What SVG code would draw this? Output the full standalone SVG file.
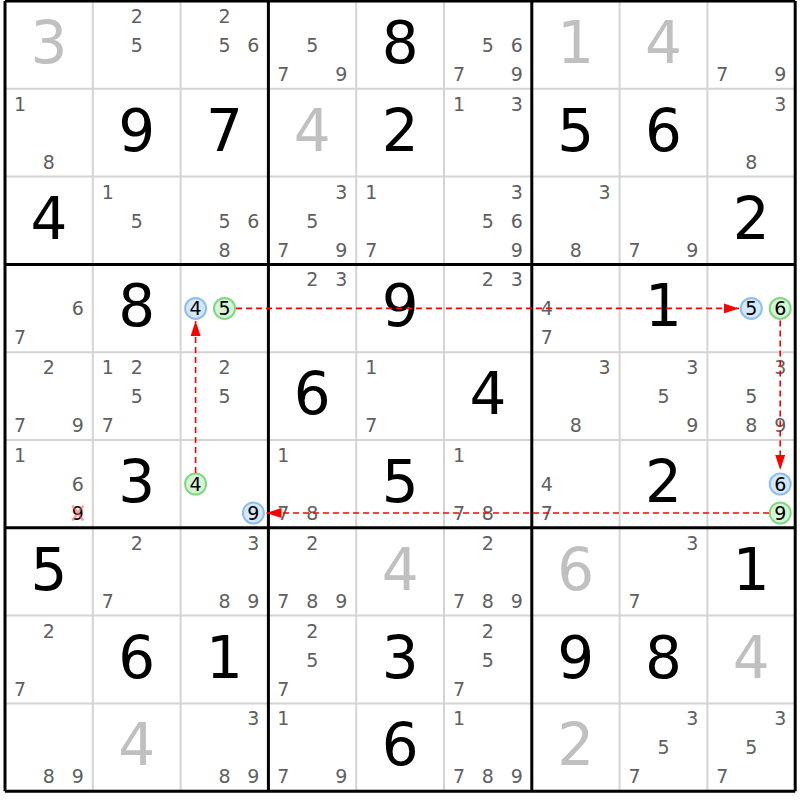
<svg xmlns="http://www.w3.org/2000/svg" width="800" height="800" viewBox="0 0 800 800">
<style>
text{font-family:"DejaVu Sans","Liberation Sans",sans-serif;text-anchor:middle}
.c{font-size:19px;fill:#606060}
.k{font-size:19px;fill:#000}
.b{font-size:58px;fill:#000}
.g{font-size:58px;fill:#c0c0c0}
.thin{stroke:#d4d4d4;stroke-width:2;fill:none}
.thick{stroke:#000;stroke-width:3;fill:none}
.blue{fill:#d5e7fb;stroke:#8ebef0;stroke-width:2}
.green{fill:#d6f4d6;stroke:#80d880;stroke-width:2}
.arr{stroke:#ff0000;stroke-width:1.6;stroke-dasharray:6 4;fill:none;marker-end:url(#ah)}
.x{stroke:#ff5050;stroke-opacity:0.55;stroke-width:2.5}
</style>
<defs>
<marker id="ah" viewBox="0 0 15 10" refX="15" refY="5" markerWidth="15" markerHeight="10" markerUnits="userSpaceOnUse" orient="auto"><path d="M0,0L15,5L0,10z" fill="#ff0000"/></marker>
</defs>
<rect width="800" height="800" fill="#fff"/>
<g id="grid">
<path class="thin" d="M92.8,1V791.2M180.6,1V791.2M356.2,1V791.2M444,1V791.2M619.6,1V791.2M707.4,1V791.2M5,88.8H795.2M5,176.6H795.2M5,352.2H795.2M5,440H795.2M5,615.6H795.2M5,703.4H795.2"/>
<path class="thick" d="M5,1V791.2M268.4,1V791.2M531.8,1V791.2M795.2,1V791.2M5,1H795.2M5,264.4H795.2M5,527.8H795.2M5,791.2H795.2"/>
</g>
<!-- Row 0 -->
<g id="r0c0" transform="translate(5,1)"><text class="g" x="43.9" y="62">3</text></g>
<g id="r0c1" transform="translate(92.8,1)"><text class="c" x="43.9" y="22">2</text><text class="c" x="43.9" y="51">5</text></g>
<g id="r0c2" transform="translate(180.6,1)"><text class="c" x="43.9" y="22">2</text><text class="c" x="43.9" y="51">5</text><text class="c" x="72.8" y="51">6</text></g>
<g id="r0c3" transform="translate(268.4,1)"><text class="c" x="43.9" y="51">5</text><text class="c" x="15" y="80">7</text><text class="c" x="72.8" y="80">9</text></g>
<g id="r0c4" transform="translate(356.2,1)"><text class="b" x="43.9" y="62">8</text></g>
<g id="r0c5" transform="translate(444,1)"><text class="c" x="43.9" y="51">5</text><text class="c" x="72.8" y="51">6</text><text class="c" x="15" y="80">7</text><text class="c" x="72.8" y="80">9</text></g>
<g id="r0c6" transform="translate(531.8,1)"><text class="g" x="43.9" y="62">1</text></g>
<g id="r0c7" transform="translate(619.6,1)"><text class="g" x="43.9" y="62">4</text></g>
<g id="r0c8" transform="translate(707.4,1)"><text class="c" x="15" y="80">7</text><text class="c" x="72.8" y="80">9</text></g>
<!-- Row 1 -->
<g id="r1c0" transform="translate(5,88.8)"><text class="c" x="15" y="22">1</text><text class="c" x="43.9" y="80">8</text></g>
<g id="r1c1" transform="translate(92.8,88.8)"><text class="b" x="43.9" y="62">9</text></g>
<g id="r1c2" transform="translate(180.6,88.8)"><text class="b" x="43.9" y="62">7</text></g>
<g id="r1c3" transform="translate(268.4,88.8)"><text class="g" x="43.9" y="62">4</text></g>
<g id="r1c4" transform="translate(356.2,88.8)"><text class="b" x="43.9" y="62">2</text></g>
<g id="r1c5" transform="translate(444,88.8)"><text class="c" x="15" y="22">1</text><text class="c" x="72.8" y="22">3</text></g>
<g id="r1c6" transform="translate(531.8,88.8)"><text class="b" x="43.9" y="62">5</text></g>
<g id="r1c7" transform="translate(619.6,88.8)"><text class="b" x="43.9" y="62">6</text></g>
<g id="r1c8" transform="translate(707.4,88.8)"><text class="c" x="72.8" y="22">3</text><text class="c" x="43.9" y="80">8</text></g>
<!-- Row 2 -->
<g id="r2c0" transform="translate(5,176.6)"><text class="b" x="43.9" y="62">4</text></g>
<g id="r2c1" transform="translate(92.8,176.6)"><text class="c" x="15" y="22">1</text><text class="c" x="43.9" y="51">5</text></g>
<g id="r2c2" transform="translate(180.6,176.6)"><text class="c" x="43.9" y="51">5</text><text class="c" x="72.8" y="51">6</text><text class="c" x="43.9" y="80">8</text></g>
<g id="r2c3" transform="translate(268.4,176.6)"><text class="c" x="72.8" y="22">3</text><text class="c" x="43.9" y="51">5</text><text class="c" x="15" y="80">7</text><text class="c" x="72.8" y="80">9</text></g>
<g id="r2c4" transform="translate(356.2,176.6)"><text class="c" x="15" y="22">1</text><text class="c" x="15" y="80">7</text></g>
<g id="r2c5" transform="translate(444,176.6)"><text class="c" x="72.8" y="22">3</text><text class="c" x="43.9" y="51">5</text><text class="c" x="72.8" y="51">6</text><text class="c" x="72.8" y="80">9</text></g>
<g id="r2c6" transform="translate(531.8,176.6)"><text class="c" x="72.8" y="22">3</text><text class="c" x="43.9" y="80">8</text></g>
<g id="r2c7" transform="translate(619.6,176.6)"><text class="c" x="15" y="80">7</text><text class="c" x="72.8" y="80">9</text></g>
<g id="r2c8" transform="translate(707.4,176.6)"><text class="b" x="43.9" y="62">2</text></g>
<!-- Row 3 -->
<g id="r3c0" transform="translate(5,264.4)"><text class="c" x="72.8" y="51">6</text><text class="c" x="15" y="80">7</text></g>
<g id="r3c1" transform="translate(92.8,264.4)"><text class="b" x="43.9" y="62">8</text></g>
<g id="r3c2" transform="translate(180.6,264.4)"><circle class="blue" cx="15" cy="44" r="10.5"/><circle class="green" cx="43.9" cy="44" r="10.5"/><text class="k" x="15" y="51">4</text><text class="k" x="43.9" y="51">5</text></g>
<g id="r3c3" transform="translate(268.4,264.4)"><text class="c" x="43.9" y="22">2</text><text class="c" x="72.8" y="22">3</text></g>
<g id="r3c4" transform="translate(356.2,264.4)"><text class="b" x="43.9" y="62">9</text></g>
<g id="r3c5" transform="translate(444,264.4)"><text class="c" x="43.9" y="22">2</text><text class="c" x="72.8" y="22">3</text></g>
<g id="r3c6" transform="translate(531.8,264.4)"><text class="c" x="15" y="51">4</text><text class="c" x="15" y="80">7</text></g>
<g id="r3c7" transform="translate(619.6,264.4)"><text class="b" x="43.9" y="62">1</text></g>
<g id="r3c8" transform="translate(707.4,264.4)"><circle class="blue" cx="43.9" cy="44" r="10.5"/><circle class="green" cx="72.8" cy="44" r="10.5"/><text class="k" x="43.9" y="51">5</text><text class="k" x="72.8" y="51">6</text></g>
<!-- Row 4 -->
<g id="r4c0" transform="translate(5,352.2)"><text class="c" x="43.9" y="22">2</text><text class="c" x="15" y="80">7</text><text class="c" x="72.8" y="80">9</text></g>
<g id="r4c1" transform="translate(92.8,352.2)"><text class="c" x="15" y="22">1</text><text class="c" x="43.9" y="22">2</text><text class="c" x="43.9" y="51">5</text><text class="c" x="15" y="80">7</text></g>
<g id="r4c2" transform="translate(180.6,352.2)"><text class="c" x="43.9" y="22">2</text><text class="c" x="43.9" y="51">5</text></g>
<g id="r4c3" transform="translate(268.4,352.2)"><text class="b" x="43.9" y="62">6</text></g>
<g id="r4c4" transform="translate(356.2,352.2)"><text class="c" x="15" y="22">1</text><text class="c" x="15" y="80">7</text></g>
<g id="r4c5" transform="translate(444,352.2)"><text class="b" x="43.9" y="62">4</text></g>
<g id="r4c6" transform="translate(531.8,352.2)"><text class="c" x="72.8" y="22">3</text><text class="c" x="43.9" y="80">8</text></g>
<g id="r4c7" transform="translate(619.6,352.2)"><text class="c" x="72.8" y="22">3</text><text class="c" x="43.9" y="51">5</text><text class="c" x="72.8" y="80">9</text></g>
<g id="r4c8" transform="translate(707.4,352.2)"><text class="c" x="72.8" y="22">3</text><text class="c" x="43.9" y="51">5</text><text class="c" x="43.9" y="80">8</text><text class="c" x="72.8" y="80">9</text></g>
<!-- Row 5 -->
<g id="r5c0" transform="translate(5,440)"><text class="c" x="15" y="22">1</text><text class="c" x="72.8" y="51">6</text><text class="k" x="72.8" y="80">9</text><path class="x" d="M67.3,65.5L78.3,80.5M78.3,65.5L67.3,80.5"/></g>
<g id="r5c1" transform="translate(92.8,440)"><text class="b" x="43.9" y="62">3</text></g>
<g id="r5c2" transform="translate(180.6,440)"><circle class="green" cx="15" cy="44" r="10.5"/><circle class="blue" cx="72.8" cy="73" r="10.5"/><text class="k" x="15" y="51">4</text><text class="k" x="72.8" y="80">9</text></g>
<g id="r5c3" transform="translate(268.4,440)"><text class="c" x="15" y="22">1</text><text class="c" x="15" y="80">7</text><text class="c" x="43.9" y="80">8</text></g>
<g id="r5c4" transform="translate(356.2,440)"><text class="b" x="43.9" y="62">5</text></g>
<g id="r5c5" transform="translate(444,440)"><text class="c" x="15" y="22">1</text><text class="c" x="15" y="80">7</text><text class="c" x="43.9" y="80">8</text></g>
<g id="r5c6" transform="translate(531.8,440)"><text class="c" x="15" y="51">4</text><text class="c" x="15" y="80">7</text></g>
<g id="r5c7" transform="translate(619.6,440)"><text class="b" x="43.9" y="62">2</text></g>
<g id="r5c8" transform="translate(707.4,440)"><circle class="blue" cx="72.8" cy="44" r="10.5"/><circle class="green" cx="72.8" cy="73" r="10.5"/><text class="k" x="72.8" y="51">6</text><text class="k" x="72.8" y="80">9</text></g>
<!-- Row 6 -->
<g id="r6c0" transform="translate(5,527.8)"><text class="b" x="43.9" y="62">5</text></g>
<g id="r6c1" transform="translate(92.8,527.8)"><text class="c" x="43.9" y="22">2</text><text class="c" x="15" y="80">7</text></g>
<g id="r6c2" transform="translate(180.6,527.8)"><text class="c" x="72.8" y="22">3</text><text class="c" x="43.9" y="80">8</text><text class="c" x="72.8" y="80">9</text></g>
<g id="r6c3" transform="translate(268.4,527.8)"><text class="c" x="43.9" y="22">2</text><text class="c" x="15" y="80">7</text><text class="c" x="43.9" y="80">8</text><text class="c" x="72.8" y="80">9</text></g>
<g id="r6c4" transform="translate(356.2,527.8)"><text class="g" x="43.9" y="62">4</text></g>
<g id="r6c5" transform="translate(444,527.8)"><text class="c" x="43.9" y="22">2</text><text class="c" x="15" y="80">7</text><text class="c" x="43.9" y="80">8</text><text class="c" x="72.8" y="80">9</text></g>
<g id="r6c6" transform="translate(531.8,527.8)"><text class="g" x="43.9" y="62">6</text></g>
<g id="r6c7" transform="translate(619.6,527.8)"><text class="c" x="72.8" y="22">3</text><text class="c" x="15" y="80">7</text></g>
<g id="r6c8" transform="translate(707.4,527.8)"><text class="b" x="43.9" y="62">1</text></g>
<!-- Row 7 -->
<g id="r7c0" transform="translate(5,615.6)"><text class="c" x="43.9" y="22">2</text><text class="c" x="15" y="80">7</text></g>
<g id="r7c1" transform="translate(92.8,615.6)"><text class="b" x="43.9" y="62">6</text></g>
<g id="r7c2" transform="translate(180.6,615.6)"><text class="b" x="43.9" y="62">1</text></g>
<g id="r7c3" transform="translate(268.4,615.6)"><text class="c" x="43.9" y="22">2</text><text class="c" x="43.9" y="51">5</text><text class="c" x="15" y="80">7</text></g>
<g id="r7c4" transform="translate(356.2,615.6)"><text class="b" x="43.9" y="62">3</text></g>
<g id="r7c5" transform="translate(444,615.6)"><text class="c" x="43.9" y="22">2</text><text class="c" x="43.9" y="51">5</text><text class="c" x="15" y="80">7</text></g>
<g id="r7c6" transform="translate(531.8,615.6)"><text class="b" x="43.9" y="62">9</text></g>
<g id="r7c7" transform="translate(619.6,615.6)"><text class="b" x="43.9" y="62">8</text></g>
<g id="r7c8" transform="translate(707.4,615.6)"><text class="g" x="43.9" y="62">4</text></g>
<!-- Row 8 -->
<g id="r8c0" transform="translate(5,703.4)"><text class="c" x="43.9" y="80">8</text><text class="c" x="72.8" y="80">9</text></g>
<g id="r8c1" transform="translate(92.8,703.4)"><text class="g" x="43.9" y="62">4</text></g>
<g id="r8c2" transform="translate(180.6,703.4)"><text class="c" x="72.8" y="22">3</text><text class="c" x="43.9" y="80">8</text><text class="c" x="72.8" y="80">9</text></g>
<g id="r8c3" transform="translate(268.4,703.4)"><text class="c" x="15" y="22">1</text><text class="c" x="15" y="80">7</text><text class="c" x="72.8" y="80">9</text></g>
<g id="r8c4" transform="translate(356.2,703.4)"><text class="b" x="43.9" y="62">6</text></g>
<g id="r8c5" transform="translate(444,703.4)"><text class="c" x="15" y="22">1</text><text class="c" x="15" y="80">7</text><text class="c" x="43.9" y="80">8</text><text class="c" x="72.8" y="80">9</text></g>
<g id="r8c6" transform="translate(531.8,703.4)"><text class="g" x="43.9" y="62">2</text></g>
<g id="r8c7" transform="translate(619.6,703.4)"><text class="c" x="72.8" y="22">3</text><text class="c" x="43.9" y="51">5</text><text class="c" x="15" y="80">7</text></g>
<g id="r8c8" transform="translate(707.4,703.4)"><text class="c" x="72.8" y="22">3</text><text class="c" x="43.9" y="51">5</text><text class="c" x="15" y="80">7</text></g>
<g id="connectors">
<path class="arr" d="M195.6,473V321"/>
<path class="arr" d="M236,308.4H739"/>
<path class="arr" d="M780.2,320.5V470"/>
<path class="arr" d="M769,513H266.5"/>
</g>
</svg>
